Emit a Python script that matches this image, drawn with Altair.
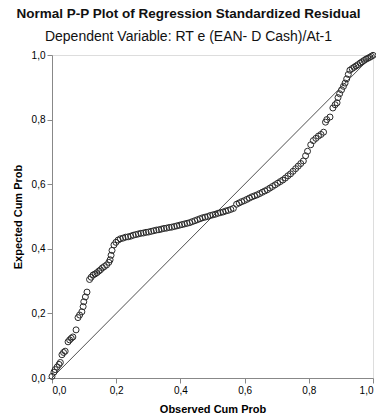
import altair as alt
import pandas as pd

obs = [0.000, 0.006, 0.010, 0.016, 0.022, 0.026, 0.031, 0.036, 0.041, 0.050, 0.055, 0.060, 0.065,
       0.075, 0.081, 0.086, 0.093, 0.097, 0.099, 0.104, 0.109, 0.117, 0.122, 0.128, 0.134, 0.140,
       0.146, 0.151, 0.157, 0.163, 0.170, 0.177, 0.181, 0.184, 0.187, 0.193, 0.199, 0.206,
       0.213, 0.221, 0.229, 0.237, 0.245, 0.253, 0.261, 0.269, 0.277, 0.285, 0.293, 0.301, 0.309,
       0.317, 0.325, 0.333, 0.341, 0.349, 0.357, 0.365, 0.373, 0.381, 0.389, 0.397, 0.405, 0.413,
       0.421, 0.429, 0.437, 0.445, 0.453, 0.461, 0.469, 0.477, 0.485, 0.493, 0.501, 0.509, 0.517,
       0.525, 0.533, 0.541, 0.549, 0.557, 0.565, 0.575, 0.583, 0.591, 0.599, 0.607, 0.615, 0.623,
       0.631, 0.639, 0.647, 0.655, 0.663, 0.671, 0.679, 0.687, 0.695, 0.703, 0.711, 0.719, 0.727,
       0.735, 0.743, 0.751, 0.759, 0.767, 0.775, 0.783, 0.790, 0.796, 0.806, 0.814, 0.822, 0.830,
       0.838, 0.846, 0.852, 0.856, 0.866, 0.875, 0.882, 0.888, 0.891, 0.896, 0.902, 0.908, 0.913,
       0.918, 0.923, 0.928, 0.935, 0.941, 0.947, 0.953, 0.960, 0.966, 0.972, 0.978, 0.984, 0.990,
       0.995, 1.000]
expc = [0.005, 0.018, 0.026, 0.034, 0.042, 0.048, 0.072, 0.079, 0.083, 0.112, 0.118, 0.123, 0.127,
        0.149, 0.187, 0.195, 0.205, 0.221, 0.236, 0.251, 0.266, 0.305, 0.312, 0.319, 0.322, 0.326,
        0.331, 0.335, 0.341, 0.345, 0.350, 0.358, 0.366, 0.380, 0.395, 0.412, 0.420, 0.427,
        0.431, 0.433, 0.436, 0.437, 0.439, 0.442, 0.444, 0.446, 0.448, 0.449, 0.451, 0.452, 0.454,
        0.456, 0.458, 0.459, 0.461, 0.463, 0.464, 0.466, 0.467, 0.469, 0.471, 0.473, 0.475, 0.477,
        0.479, 0.481, 0.484, 0.487, 0.490, 0.493, 0.496, 0.498, 0.500, 0.503, 0.505, 0.507, 0.510,
        0.512, 0.514, 0.517, 0.519, 0.522, 0.525, 0.538, 0.542, 0.546, 0.549, 0.553, 0.557, 0.561,
        0.564, 0.567, 0.571, 0.575, 0.579, 0.583, 0.588, 0.593, 0.598, 0.603, 0.608, 0.613, 0.619,
        0.626, 0.632, 0.640, 0.648, 0.656, 0.664, 0.672, 0.688, 0.702, 0.722, 0.735, 0.742, 0.749,
        0.754, 0.761, 0.792, 0.800, 0.808, 0.836, 0.846, 0.852, 0.868, 0.880, 0.892, 0.903, 0.913,
        0.926, 0.940, 0.953, 0.958, 0.962, 0.966, 0.970, 0.975, 0.979, 0.983, 0.987, 0.990, 0.993,
        0.996, 0.999]

diag_x = [0.0, 1.0]
diag_y = [0.0, 1.0]

pts = pd.DataFrame({"obs": obs, "exp": expc})
diag = pd.DataFrame({"obs": diag_x, "exp": diag_y})

label_expr = "replace(format(datum.value, '.1f'), '.', ',')"

xenc = alt.X("obs:Q", scale=alt.Scale(domain=[0, 1], nice=False),
             axis=alt.Axis(title="Observed Cum Prob", values=[0, 0.2, 0.4, 0.6, 0.8, 1.0],
                           labelExpr=label_expr, grid=False, titleY=36, titleBaseline="bottom"))
yenc = alt.Y("exp:Q", scale=alt.Scale(domain=[0, 1], nice=False),
             axis=alt.Axis(title="Expected Cum Prob", values=[0, 0.2, 0.4, 0.6, 0.8, 1.0],
                           labelExpr=label_expr, grid=False, titleX=-34, titleBaseline="middle"))

line = alt.Chart(diag).mark_line(color="#222222", strokeWidth=0.8).encode(x=xenc, y=yenc)
points = alt.Chart(pts).mark_point(shape="circle", filled=False, size=36,
                                   stroke="#2a2a2a", strokeWidth=1.0, opacity=1).encode(x=xenc, y=yenc)

chart = (line + points).properties(
    width=321, height=323,
    autosize=alt.AutoSizeParams(type="none"),
    padding={"left": 52, "top": 55, "right": 3, "bottom": 41},
    title=alt.TitleParams(
        text="Normal P-P Plot of Regression Standardized Residual",
        subtitle="Dependent Variable: RT e (EAN- D Cash)/At-1",
        font="Liberation Sans", fontSize=13.5, fontWeight="bold", color="#111111",
        subtitleFont="Liberation Sans", subtitleFontSize=14, subtitleFontWeight="normal",
        subtitleColor="#111111", subtitlePadding=10, offset=6, anchor="middle", dx=-24,
    ),
).configure_view(
    fill="#f0f0f0", stroke="#444444", strokeWidth=1
).configure_axis(
    domainColor="#444444", domainWidth=1, tickColor="#444444", tickSize=4,
    labelFont="Liberation Sans", labelFontSize=8, labelColor="#666666", labelPadding=3,
    titleFont="Liberation Sans", titleFontSize=12, titleFontWeight="bold", titleColor="#111111",
).configure(background="white")

chart.save("out.html", embed_options={"renderer": "svg", "actions": False})
